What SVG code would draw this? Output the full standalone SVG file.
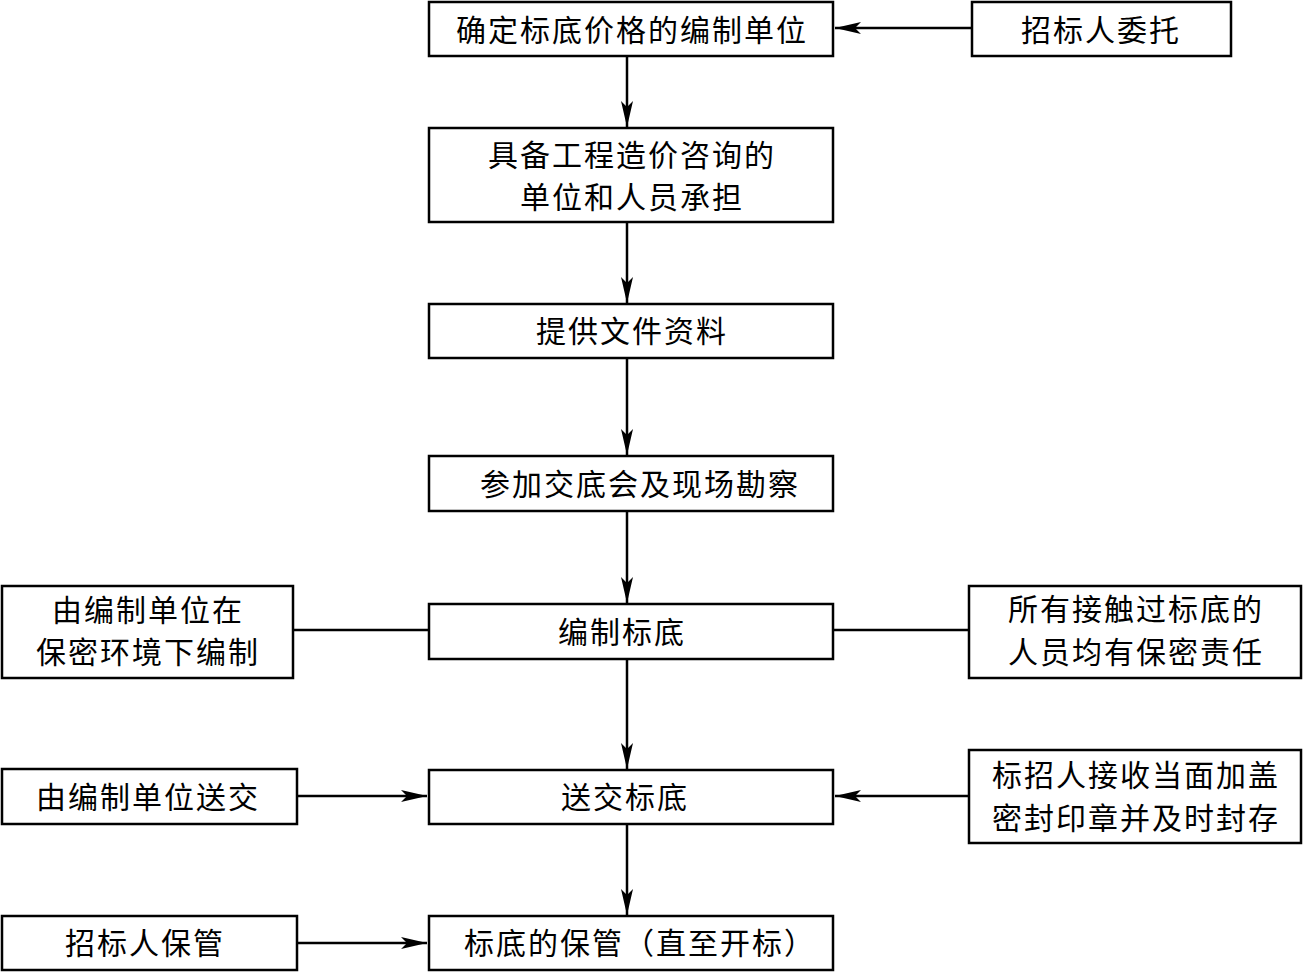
<svg xmlns="http://www.w3.org/2000/svg" width="1303" height="973" viewBox="0 0 1303 973">
<defs>
<style>
.box{fill:#fff;stroke:#000;stroke-width:2.5}
.t{font-family:"Liberation Serif","Noto Sans CJK SC",serif;font-size:30px;letter-spacing:2px;text-anchor:middle;fill:#000}
.c{stroke:#000;stroke-width:2.5;fill:none}
</style>
<marker id="ah" markerUnits="userSpaceOnUse" markerWidth="28" markerHeight="14" refX="26" refY="7" orient="auto">
<path d="M0,1 L26,7 L0,13 L6,7 Z" fill="#000"/>
</marker>
</defs>
<rect width="1303" height="973" fill="#fff"/>
<g id="connectors">
<line class="c" x1="971" y1="28" x2="835" y2="28" marker-end="url(#ah)"/>
<line class="c" x1="627" y1="56" x2="627" y2="127" marker-end="url(#ah)"/>
<line class="c" x1="627" y1="222" x2="627" y2="303" marker-end="url(#ah)"/>
<line class="c" x1="627" y1="358" x2="627" y2="455" marker-end="url(#ah)"/>
<line class="c" x1="627" y1="511" x2="627" y2="603" marker-end="url(#ah)"/>
<line class="c" x1="627" y1="659" x2="627" y2="769" marker-end="url(#ah)"/>
<line class="c" x1="627" y1="824" x2="627" y2="915" marker-end="url(#ah)"/>
<line class="c" x1="293" y1="630" x2="428" y2="630"/>
<line class="c" x1="833" y1="630" x2="969" y2="630"/>
<line class="c" x1="297" y1="796" x2="427" y2="796" marker-end="url(#ah)"/>
<line class="c" x1="969" y1="796" x2="835" y2="796" marker-end="url(#ah)"/>
<line class="c" x1="297" y1="943" x2="427" y2="943" marker-end="url(#ah)"/>
</g>
<g id="n1"><rect class="box" x="429" y="2" width="404" height="54"/><text class="t" x="632" y="41">确定标底价格的编制单位</text></g>
<g id="n2"><rect class="box" x="429" y="128" width="404" height="94"/><text class="t" x="632" y="166">具备工程造价咨询的</text><text class="t" x="632" y="208">单位和人员承担</text></g>
<g id="n3"><rect class="box" x="429" y="304" width="404" height="54"/><text class="t" x="632" y="342">提供文件资料</text></g>
<g id="n4"><rect class="box" x="429" y="456" width="404" height="55"/><text class="t" x="640" y="495">参加交底会及现场勘察</text></g>
<g id="n5"><rect class="box" x="429" y="604" width="404" height="55"/><text class="t" x="622" y="643">编制标底</text></g>
<g id="n6"><rect class="box" x="429" y="770" width="404" height="54"/><text class="t" x="625" y="808">送交标底</text></g>
<g id="n7"><rect class="box" x="429" y="916" width="404" height="54"/><text class="t" x="640" y="954">标底的保管（直至开标）</text></g>
<g id="r1"><rect class="box" x="972" y="2" width="259" height="54"/><text class="t" x="1101" y="41">招标人委托</text></g>
<g id="l1"><rect class="box" x="2" y="586" width="291" height="92"/><text class="t" x="148" y="621">由编制单位在</text><text class="t" x="148" y="663">保密环境下编制</text></g>
<g id="r2"><rect class="box" x="969" y="586" width="332" height="92"/><text class="t" x="1136" y="620">所有接触过标底的</text><text class="t" x="1136" y="663">人员均有保密责任</text></g>
<g id="l2"><rect class="box" x="2" y="769" width="295" height="55"/><text class="t" x="148" y="808">由编制单位送交</text></g>
<g id="r3"><rect class="box" x="969" y="750" width="332" height="93"/><text class="t" x="1136" y="786">标招人接收当面加盖</text><text class="t" x="1136" y="829">密封印章并及时封存</text></g>
<g id="l3"><rect class="box" x="2" y="916" width="295" height="54"/><text class="t" x="145" y="954">招标人保管</text></g>
</svg>
